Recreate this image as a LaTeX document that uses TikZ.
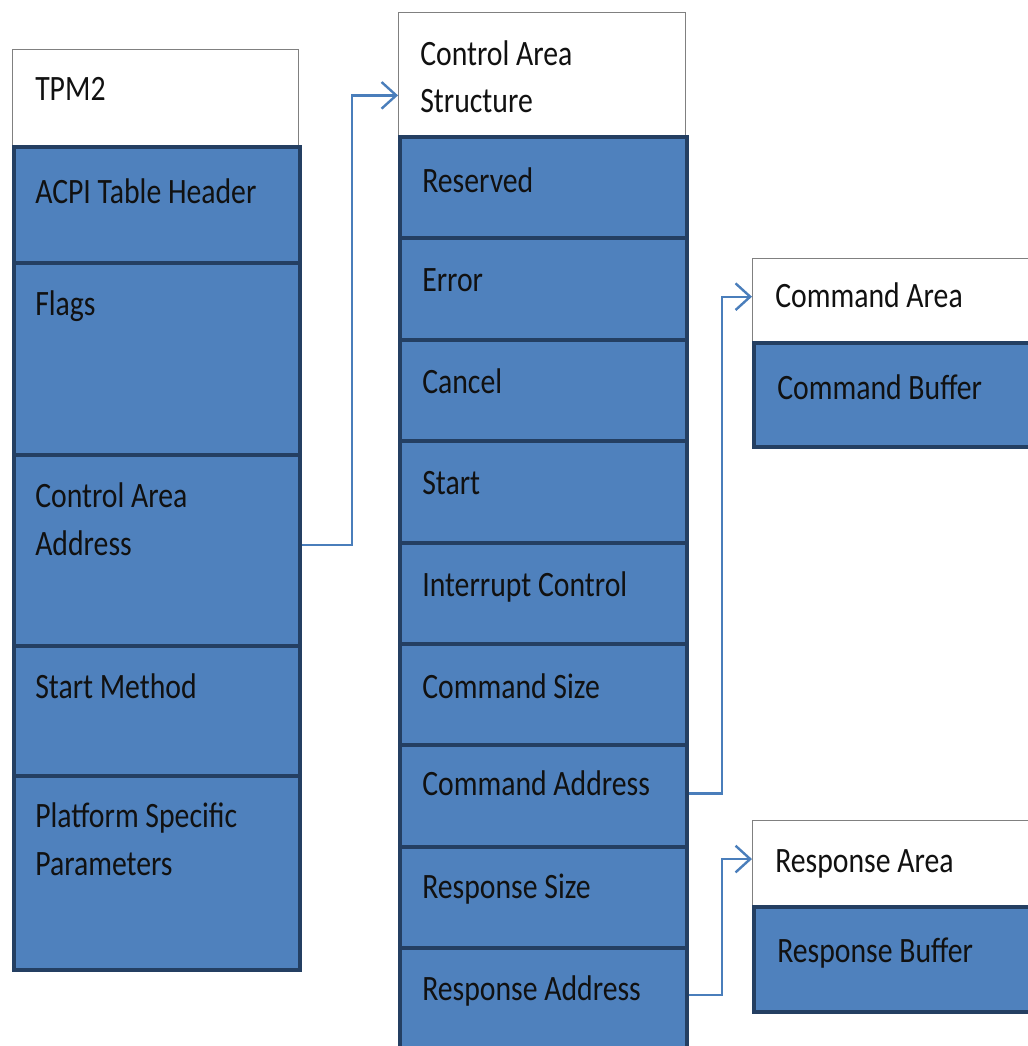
\documentclass[tikz,border=0pt]{standalone}
\usepackage{fontspec}
\usepackage{graphicx}
\setmainfont{Carlito}
\usetikzlibrary{arrows.meta,calc}
\definecolor{rowfill}{HTML}{4F81BD}
\definecolor{rowline}{HTML}{243F62}
\definecolor{connblue}{HTML}{4A7EBB}
\definecolor{txt}{HTML}{111111}
\newcommand{\stx}[1]{\scalebox{1}[1.2]{#1}}
\tikzset{
  rowbox/.style={draw=rowline, line width=3pt, fill=rowfill, inner sep=0pt, anchor=north west},
  headbox/.style={draw=black!50, line width=0.8pt, fill=white, inner sep=0pt, anchor=north west},
  lbl/.style={anchor=base west, inner sep=0pt, text=txt, font=\fontsize{22.3pt}{26pt}\selectfont},
  conn/.style={draw=connblue, line width=1.8pt, -{Straight Barb[length=11pt,width=20pt,line width=1.8pt]}}
}
\begin{document}
\begin{tikzpicture}[x=0.75pt,y=-0.75pt]
\useasboundingbox (0,0) rectangle (1028,1046);
\clip (0,0) rectangle (1028,1046);
% left column
\node[headbox, minimum width=214.5pt, minimum height=72pt] (tpm) at (12,49) {};
\node[rowbox, minimum width=214.5pt, minimum height=87pt] (acpi) at (12,145) {};
\node[rowbox, minimum width=214.5pt, minimum height=144pt] (flags) at (12,261) {};
\node[rowbox, minimum width=214.5pt, minimum height=143.25pt] (caa) at (12,453) {};
\node[rowbox, minimum width=214.5pt, minimum height=97.5pt] (sm) at (12,644) {};
\node[rowbox, minimum width=214.5pt, minimum height=145.5pt] (psp) at (12,774) {};
\node[lbl] (tpmT) at (35,100) {\stx{TPM2}};
\node[lbl] (acpiT) at (35,203) {\stx{ACPI Table Header}};
\node[lbl] (flagsT) at (35,315) {\stx{Flags}};
\node[lbl] (caaT1) at (35,507) {\stx{Control Area}};
\node[lbl] (caaT2) at (35,555) {\stx{Address}};
\node[lbl] (smT) at (35,698) {\stx{Start Method}};
\node[lbl] (pspT1) at (35,827) {\stx{Platform Specific}};
\node[lbl] (pspT2) at (35,875) {\stx{Parameters}};
% middle column
\node[headbox, minimum width=215.25pt, minimum height=92.25pt] (cas) at (398,12) {};
\node[rowbox, minimum width=215.25pt, minimum height=76.05pt] (res) at (398,135) {};
\node[rowbox, minimum width=215.25pt, minimum height=76.05pt] (err) at (398,236.4) {};
\node[rowbox, minimum width=215.25pt, minimum height=76.05pt] (can) at (398,337.8) {};
\node[rowbox, minimum width=215.25pt, minimum height=76.05pt] (sta) at (398,439.2) {};
\node[rowbox, minimum width=215.25pt, minimum height=76.05pt] (irq) at (398,540.6) {};
\node[rowbox, minimum width=215.25pt, minimum height=76.05pt] (csz) at (398,642) {};
\node[rowbox, minimum width=215.25pt, minimum height=76.05pt] (cad) at (398,743.4) {};
\node[rowbox, minimum width=215.25pt, minimum height=76.05pt] (rsz) at (398,844.8) {};
\node[rowbox, minimum width=215.25pt, minimum height=76.05pt] (rad) at (398,946.2) {};
\node[lbl] (casT1) at (420,65) {\stx{Control Area}};
\node[lbl] (casT2) at (420,112) {\stx{Structure}};
\node[lbl] (resT) at (422,192) {\stx{Reserved}};
\node[lbl] (errT) at (422,291) {\stx{Error}};
\node[lbl] (canT) at (422,393) {\stx{Cancel}};
\node[lbl] (staT) at (422,494) {\stx{Start}};
\node[lbl] (irqT) at (422,596) {\stx{Interrupt Control}};
\node[lbl] (cszT) at (422,698) {\stx{Command Size}};
\node[lbl] (cadT) at (422,795) {\stx{Command Address}};
\node[lbl] (rszT) at (422,898) {\stx{Response Size}};
\node[lbl] (radT) at (422,1000) {\stx{Response Address}};
% right column
\node[headbox, minimum width=219.75pt, minimum height=62.25pt] (cma) at (752,258) {};
\node[rowbox, minimum width=219.75pt, minimum height=78pt] (cmb) at (752,341) {};
\node[headbox, minimum width=219.75pt, minimum height=63.75pt] (rpa) at (752,820) {};
\node[rowbox, minimum width=219.75pt, minimum height=78.75pt] (rpb) at (752,905) {};
\node[lbl] (cmaT) at (775,307) {\stx{Command Area}};
\node[lbl] (cmbT) at (777,399) {\stx{Command Buffer}};
\node[lbl] (rpaT) at (775,872) {\stx{Response Area}};
\node[lbl] (rpbT) at (777,962) {\stx{Response Buffer}};
% connectors
\draw[conn] ([yshift=4pt]caa.east) -- ++(50,0) |- ([yshift=-16pt]cas.west);
\draw[conn] ([yshift=2pt]cad.east) -- ++(33,0) |- ([yshift=2.5pt]cma.west);
\draw[conn] ([yshift=3pt]rad.east) -- ++(33,0) |- ([yshift=3pt]rpa.west);
\end{tikzpicture}
\end{document}
